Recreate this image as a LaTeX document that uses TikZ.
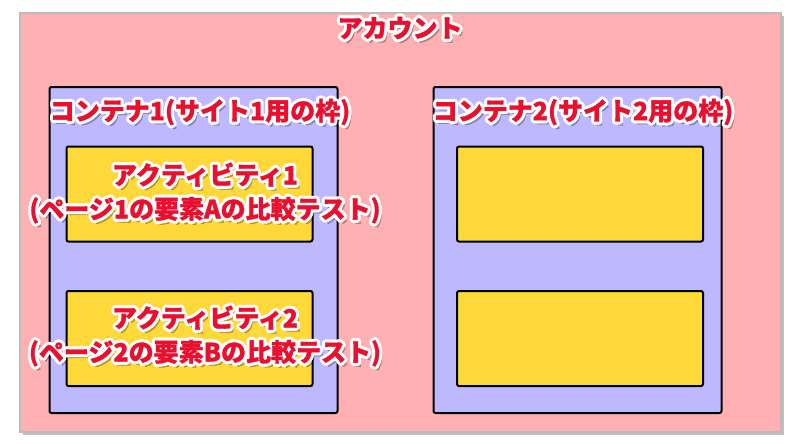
\documentclass[tikz,border=0pt]{standalone}
\usepackage{fontspec}
\newfontfamily\jpfont{Noto Sans CJK JP}[BoldFeatures={FakeBold=1.2}]
\usetikzlibrary{positioning}
\definecolor{acctpink}{HTML}{FFB0B2}
\definecolor{acctgray}{HTML}{BBBBBB}
\definecolor{contblue}{HTML}{BEB8FF}
\definecolor{actyellow}{HTML}{FFD83A}
\definecolor{lblred}{HTML}{E8102E}

% red label with white outline and soft shadow
\newcommand{\redlabel}[3]{%
  \node[lbl, text=black, opacity=0.25, xshift=3pt, yshift=-4pt] (#1-s) at (#2) {#3};
  \foreach \a [count=\i] in {0,30,...,330}{
    \node[lbl, text=white, xshift={3*cos(\a)}, yshift={3*sin(\a)}] (#1-w\i) at (#2) {#3};
  }
  \node[lbl, text=lblred] (#1) at (#2) {#3};
}

\begin{document}
\begin{tikzpicture}[x=1pt, y=-1pt,
    account/.style={rectangle, draw=acctgray, line width=1.5pt, fill=acctpink, minimum width=761pt, minimum height=419pt, inner sep=0},
    container/.style={rectangle, draw=black, line width=2pt, fill=contblue, rounded corners=2pt, minimum width=288pt, minimum height=326pt, inner sep=0},
    activity/.style={rectangle, draw=black, line width=2pt, fill=actyellow, rounded corners=2pt, minimum width=246pt, minimum height=95pt, inner sep=0},
    lbl/.style={font=\jpfont\bfseries\fontsize{25}{34}\selectfont, align=center, inner sep=0}]

                \useasboundingbox[fill=white] (0,0) rectangle (800,444);

                \node[account, draw=none, fill=black!25] (S) at (403.5,225.5) {};
                \node[account] (A) at (400.5,222.5) {};

                \foreach \n/ \x in {C1/193.5, C2/577.5}{
                    \node[container] (\n) at (\x,250) {};
                }

                \foreach \n/ \x/ \y in {A1/189.5/194, A2/189.5/338.5, B1/580/194, B2/580/338.5}{
                    \node[activity] (\n) at (\x,\y) {};
                }


                \redlabel{acct}{400,28}{アカウント}
                \redlabel{t1}{200,112}{コンテナ1(サイト1用の枠)}
                \redlabel{t2}{583,112}{コンテナ2(サイト2用の枠)}
                \redlabel{a1}{205,193}{アクティビティ1\\(ページ1の要素Aの比較テスト)}
                \redlabel{a2}{205,336}{アクティビティ2\\(ページ2の要素Bの比較テスト)}

        \end{tikzpicture}
\end{document}
